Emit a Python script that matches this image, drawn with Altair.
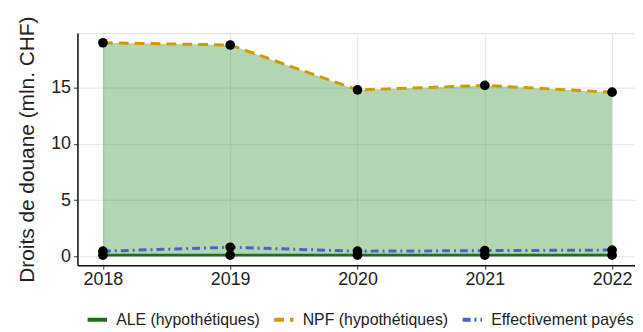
import altair as alt
import pandas as pd

years = [2018, 2019, 2020, 2021, 2022]
ale = [0.1, 0.1, 0.1, 0.1, 0.1]
npf = [19.0, 18.8, 14.8, 15.2, 14.6]
paid = [0.45, 0.8, 0.45, 0.5, 0.55]
series = ["ALE (hypothétiques)", "NPF (hypothétiques)", "Effectivement payés"]
colors = ["#1f6e1f", "#d29a00", "#4a63c8"]
dashes = [[1, 0], [10, 6], [8, 4, 2, 4]]

wide = pd.DataFrame({"year": years, "ale": ale, "npf": npf})
rows = []
for s, vals in zip(series, [ale, npf, paid]):
    for y, v in zip(years, vals):
        rows.append({"year": y, "serie": s, "value": v})
long = pd.DataFrame(rows)

xscale = alt.Scale(domain=[2017.8, 2022.18], nice=False)
yscale = alt.Scale(domain=[-0.8, 19.86], nice=False)

xaxis = alt.Axis(values=years, format="d", title=None, labelFontSize=18,
                 labelColor="#222", domainColor="#111", domainWidth=1.5,
                 tickColor="#333", tickSize=4, gridColor="#e4e4e4",
                 labelPadding=1)
yaxis = alt.Axis(values=[0, 5, 10, 15], title="Droits de douane (mln. CHF)",
                 titleFontSize=21, titleFontWeight="normal", titleColor="#222",
                 labelFontSize=18, labelColor="#222", domainColor="#111",
                 domainWidth=1.5, tickColor="#333", tickSize=4,
                 gridColor="#e4e4e4", titlePadding=13, labelPadding=3)

area = alt.Chart(wide).mark_area(color="#2e8b2e", opacity=0.36).encode(
    x=alt.X("year:Q", scale=xscale, axis=xaxis),
    y=alt.Y("ale:Q", scale=yscale, axis=yaxis),
    y2="npf:Q",
)

lines = alt.Chart(long).mark_line(strokeWidth=3).encode(
    x=alt.X("year:Q", scale=xscale),
    y=alt.Y("value:Q", scale=yscale),
    color=alt.Color("serie:N", scale=alt.Scale(domain=series, range=colors),
                    legend=alt.Legend(title=None, orient="none", direction="horizontal",
                                      legendX=8, legendY=277, labelFontSize=16,
                                      labelColor="#222", symbolStrokeWidth=4,
                                      symbolSize=380, columnPadding=6, labelOffset=7,
                                      labelFont="Liberation Sans")),
    strokeDash=alt.StrokeDash("serie:N", scale=alt.Scale(domain=series, range=dashes),
                              legend=None),
)

points = alt.Chart(long).mark_circle(size=95, color="black", opacity=1).encode(
    x=alt.X("year:Q", scale=xscale),
    y=alt.Y("value:Q", scale=yscale),
)

chart = alt.layer(area, lines, points).properties(
    width=562, height=234,
    autosize=alt.AutoSizeParams(type="none"),
    padding={"left": 70, "top": 24, "right": 0, "bottom": 66},
).configure_view(stroke=None).configure(font="Liberation Sans")

chart.save("out.html", embed_options={"renderer": "svg", "actions": False})
